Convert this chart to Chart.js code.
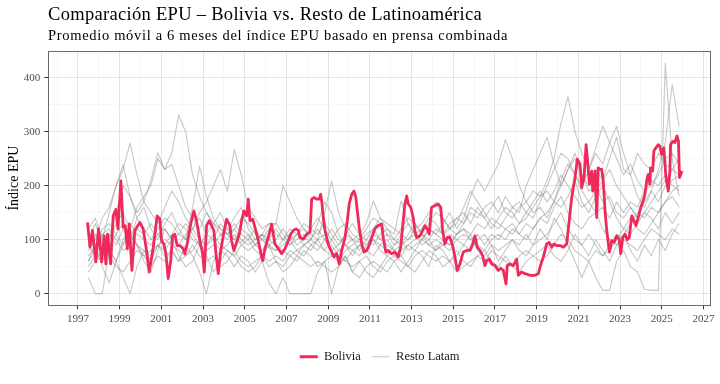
<!DOCTYPE html>
<html><head><meta charset="utf-8">
<script src="https://cdn.jsdelivr.net/npm/chart.js@4.4.0/dist/chart.umd.min.js"></script>
<style>
html,body{margin:0;padding:0;background:#fff;}
#wrap{position:relative;width:720px;height:384px;overflow:hidden;background:#fff;}
canvas{position:absolute;left:0;top:0;}
.t{position:absolute;left:48px;white-space:nowrap;font-family:"Liberation Serif",serif;color:#000;line-height:1;}
#title{top:4.5px;font-size:18.5px;}
#subtitle{top:27.9px;font-size:14.5px;}
</style></head><body>
<div id="wrap"><canvas id="c" width="720" height="384"></canvas>
<div id="title" class="t">Comparación EPU – Bolivia vs. Resto de Latinoamérica</div>
<div id="subtitle" class="t">Promedio móvil a 6 meses del índice EPU basado en prensa combinada</div></div>
<script>
// ---------- DATA ----------
const xTickYears = [1997,1999,2001,2003,2005,2007,2009,2011,2013,2015,2017,2019,2021,2023,2025,2027];
const yTickValues = [0,100,200,300,400];

const boliviaDates = [1997.46,1997.58,1997.70,1997.86,1997.99,1998.14,1998.26,1998.34,1998.42,1998.57,1998.69,1998.82,1998.92,1999.06,1999.17,1999.27,1999.37,1999.46,1999.59,1999.73,1999.97,2000.13,2000.29,2000.42,2000.61,2000.80,2000.93,2001.01,2001.12,2001.22,2001.33,2001.45,2001.54,2001.65,2001.76,2001.89,2002.05,2002.13,2002.24,2002.41,2002.56,2002.69,2002.85,2002.98,2003.06,2003.17,2003.30,2003.41,2003.52,2003.62,2003.73,2003.84,2004.00,2004.13,2004.29,2004.37,2004.48,2004.61,2004.74,2004.85,2004.96,2005.09,2005.17,2005.25,2005.38,2005.49,2005.65,2005.81,2005.86,2005.97,2006.08,2006.17,2006.29,2006.37,2006.45,2006.61,2006.77,2006.93,2007.09,2007.20,2007.33,2007.46,2007.57,2007.65,2007.81,2007.97,2008.13,2008.21,2008.32,2008.45,2008.57,2008.64,2008.69,2008.77,2008.85,2009.00,2009.17,2009.28,2009.41,2009.53,2009.65,2009.81,2009.92,2010.01,2010.13,2010.24,2010.33,2010.40,2010.49,2010.61,2010.72,2010.85,2010.97,2011.09,2011.24,2011.40,2011.57,2011.64,2011.77,2011.88,2012.04,2012.20,2012.36,2012.48,2012.60,2012.68,2012.77,2012.84,2012.96,2013.08,2013.16,2013.24,2013.40,2013.53,2013.64,2013.75,2013.85,2013.96,2014.12,2014.28,2014.40,2014.49,2014.60,2014.71,2014.84,2014.97,2015.08,2015.19,2015.32,2015.48,2015.64,2015.80,2015.93,2016.04,2016.15,2016.28,2016.41,2016.52,2016.60,2016.73,2016.84,2017.00,2017.16,2017.27,2017.40,2017.53,2017.59,2017.72,2017.88,2018.04,2018.12,2018.28,2018.44,2018.68,2018.92,2019.08,2019.16,2019.32,2019.48,2019.60,2019.72,2019.83,2019.96,2020.12,2020.28,2020.44,2020.56,2020.68,2020.84,2020.95,2021.08,2021.16,2021.27,2021.37,2021.43,2021.53,2021.58,2021.64,2021.69,2021.75,2021.80,2021.88,2021.95,2022.04,2022.12,2022.19,2022.28,2022.36,2022.44,2022.49,2022.60,2022.71,2022.84,2022.96,2023.03,2023.13,2023.24,2023.35,2023.44,2023.56,2023.67,2023.76,2023.87,2023.99,2024.11,2024.19,2024.30,2024.35,2024.43,2024.46,2024.56,2024.62,2024.72,2024.83,2024.91,2024.99,2025.10,2025.20,2025.31,2025.39,2025.42,2025.52,2025.63,2025.73,2025.80,2025.85,2025.97];
const boliviaValues = [132,86,117,59,120,59,107,55,110,55,144,156,120,209,123,126,83,129,43,117,132,120,80,40,85,144,138,98,92,74,28,61,107,110,89,89,83,74,92,129,153,135,98,74,40,126,135,126,117,74,37,77,114,138,126,98,80,95,110,135,153,144,175,135,138,123,98,68,61,83,98,110,129,110,92,83,74,83,98,110,117,120,117,104,101,110,114,175,178,175,175,184,172,141,117,92,77,68,74,55,80,104,135,166,184,190,178,153,123,92,77,80,90,104,120,126,129,104,77,80,74,77,68,86,135,166,181,166,160,141,117,104,107,117,126,120,110,160,163,166,160,117,92,104,104,89,68,43,55,77,80,80,92,107,86,80,70,52,61,64,55,52,43,47,43,18,52,55,52,64,34,40,37,34,34,37,49,68,92,95,86,92,89,89,86,92,135,178,215,249,240,196,215,276,251,203,221,227,190,196,227,141,233,230,230,210,153,117,92,77,98,95,107,100,74,104,110,100,104,144,135,126,141,160,172,184,215,221,203,233,227,264,270,276,273,258,270,215,190,227,276,282,280,292,282,215,227];

// Other Latin American countries: one value every 4 months from mid-1997
const latamStartYear = 1997.5;
const latamStepMonths = 4;
const latam01 = [90,110,70,100,130,150,120,160,180,200,250,230,260,331,300,220,180,150,130,120,110,100,95,110,90,100,85,80,90,100,110,120,100,130,170,150,110,90,100,95,110,120,140,130,120,110,100,120,130,150,170,140,120,130,160,190,170,150,130,120,140,160,150,200,230,260,290,240,200,230,260,220,200,230,210,250,290,230,220,260,240,230,260,240,230,220];
const latam02 = [60,80,100,150,200,230,279,220,170,150,130,160,190,170,140,120,150,170,200,230,190,267,220,160,140,120,130,130,200,170,140,120,110,100,150,209,150,120,100,110,130,172,140,120,110,172,130,110,100,120,110,130,150,120,140,180,212,190,215,240,285,250,200,170,150,160,140,170,200,230,250,220,190,200,170,180,150,140,160,140,170,190,170,200,210,220];
const latam03 = [30,0,0,80,60,30,0,50,80,60,90,70,80,60,90,70,40,0,60,80,70,50,70,60,40,60,20,0,30,0,0,0,0,40,60,0,50,70,40,60,40,30,50,70,60,40,60,80,70,50,90,80,60,70,90,110,80,70,90,60,80,100,90,110,90,120,100,140,120,90,60,30,60,30,6,6,60,80,50,40,8,6,6,427,250,180];
const latam04 = [100,130,90,110,90,120,100,140,160,120,100,130,150,120,100,160,236,180,140,120,110,130,110,100,120,100,90,80,100,120,110,90,100,120,100,80,90,110,100,80,100,90,110,120,100,90,110,130,110,100,120,110,130,140,150,130,160,140,160,180,150,140,160,170,190,180,210,250,316,365,300,260,230,270,310,280,250,220,240,210,190,200,220,250,260,240];
const latam05 = [70,90,110,100,150,200,180,150,170,210,261,230,240,200,160,140,120,150,130,110,120,100,120,110,90,80,100,90,80,70,80,90,100,90,80,100,80,90,70,90,80,100,90,80,70,80,90,100,110,90,100,90,80,100,110,100,90,80,100,110,100,120,110,100,120,140,130,160,180,150,130,120,140,150,120,100,90,110,130,150,140,160,150,170,180,160];
const latam06 = [80,100,140,160,200,239,180,140,120,100,120,140,130,110,100,120,140,110,100,130,110,120,140,130,110,100,120,130,110,90,100,110,90,80,100,120,100,90,80,70,90,100,80,70,90,100,80,90,100,120,110,100,90,110,120,110,130,120,140,130,120,110,130,150,140,170,200,230,260,250,220,200,230,260,240,280,310,260,220,180,160,190,230,280,387,310];
const latam07 = [50,70,60,80,60,90,110,90,70,80,90,100,90,80,70,80,100,90,110,90,80,70,90,100,80,70,60,70,60,80,70,90,80,100,110,90,70,60,80,90,80,70,90,100,80,70,90,80,100,90,80,90,110,100,90,80,100,110,90,80,90,100,80,70,90,100,110,130,150,120,100,90,110,90,70,80,100,120,110,130,150,140,120,150,130,150];
const latam08 = [40,60,80,70,50,40,60,80,70,50,70,60,80,60,70,90,70,60,70,50,60,80,60,50,60,70,50,60,50,70,60,80,70,50,60,70,80,60,50,60,70,50,40,60,70,60,50,70,80,70,60,70,60,80,60,50,70,60,80,70,60,50,70,80,70,60,70,90,110,100,80,70,60,80,70,90,110,100,90,80,100,120,110,100,120,110];
const latam09 = [110,80,120,130,110,90,130,110,100,90,110,120,100,90,110,120,100,90,100,80,90,110,90,80,90,110,100,120,100,110,90,100,120,110,130,110,90,110,130,110,100,120,100,110,90,110,130,110,120,140,130,110,120,140,130,150,140,160,170,150,180,160,170,150,170,190,170,190,220,200,180,160,170,150,160,140,170,150,170,160,190,210,200,220,200,190];
const latam10 = [120,140,100,90,110,130,110,90,80,70,90,80,100,110,130,110,90,80,90,110,100,120,100,90,100,110,90,100,120,100,80,70,90,100,80,70,60,80,90,100,90,110,100,90,80,90,100,110,90,100,80,100,90,110,120,100,110,90,110,100,120,130,110,130,120,140,150,170,160,180,210,170,150,180,200,170,140,120,140,120,110,130,150,170,190,200];
const latam11 = [60,90,50,20,60,100,120,90,60,40,80,120,100,70,50,60,90,70,40,60,80,70,50,40,50,70,90,60,40,50,70,60,50,60,50,40,50,70,40,30,50,60,50,40,60,70,50,40,60,80,70,50,60,40,50,60,70,80,60,50,70,50,40,60,70,80,90,70,60,80,110,90,70,100,80,60,90,110,80,60,90,70,100,80,110,130];
const latam12 = [90,70,110,120,100,80,90,120,110,130,110,90,110,130,120,100,90,110,130,150,120,140,160,120,100,110,130,110,100,90,110,130,120,140,120,100,120,130,110,100,120,140,130,110,100,120,140,130,110,130,150,140,120,110,130,160,150,140,120,140,160,150,130,140,160,180,190,170,210,240,220,190,170,190,210,230,200,180,160,140,150,170,190,210,230,250];
const latamSeries = [latam01,latam02,latam03,latam04,latam05,latam06,latam07,latam08,latam09,latam10,latam11,latam12];

// ---------- CHART ----------
const FONT = '"Liberation Serif", "Times New Roman", serif';
const xMin = 1995.58, xMax = 2027.36;
const yMin = -21.4, yMax = 449.4;
const BOL_COLOR = '#EE2A5B';
const GRAY_COLOR = 'rgba(130,130,130,0.45)';
const GRID_MAJOR = '#e3e3e3', GRID_MINOR = '#f1f1f1';

function fitText(id, target) {
  const el = document.getElementById(id);
  const cs = getComputedStyle(el);
  const c = document.createElement('canvas').getContext('2d');
  c.font = cs.fontSize + ' ' + cs.fontFamily;
  const w = c.measureText(el.textContent).width;
  el.style.letterSpacing = ((target - w) / el.textContent.length) + 'px';
}
fitText('title', 434);
fitText('subtitle', 460);

const datasets = [{
  label: 'Bolivia',
  data: boliviaDates.map((d, i) => ({x: d, y: boliviaValues[i]})),
  borderColor: BOL_COLOR, backgroundColor: BOL_COLOR,
  borderWidth: 2.8, pointRadius: 0, tension: 0, borderJoinStyle: 'round'
}];
latamSeries.forEach((s) => {
  datasets.push({
    label: 'Resto Latam',
    data: s.map((v, i) => ({x: latamStartYear + i * latamStepMonths / 12, y: v})),
    borderColor: GRAY_COLOR, backgroundColor: GRAY_COLOR,
    borderWidth: 1.1, pointRadius: 0, tension: 0, borderJoinStyle: 'round'
  });
});

const isMajorX = (v) => xTickYears.includes(v);
const isMajorY = (v) => yTickValues.includes(v);

const panelBorder = {
  id: 'panelBorder',
  afterDatasetsDraw(chart) {
    const {ctx, chartArea: a} = chart;
    ctx.save();
    ctx.strokeStyle = '#6a6a6a';
    ctx.lineWidth = 1;
    ctx.strokeRect(Math.round(a.left) + 0.5, Math.round(a.top) + 0.5, Math.round(a.right - a.left) - 1, Math.round(a.bottom - a.top));
    ctx.restore();
  }
};
const legendToPanel = {
  id: 'legendToPanel',
  afterLayout(chart) {
    const lg = chart.legend, a = chart.chartArea;
    if (!lg) return;
    lg.left = a.left; lg.right = a.right; lg.width = a.right - a.left;
  }
};

new Chart(document.getElementById('c'), {
  type: 'line',
  data: {datasets},
  options: {
    responsive: false, animation: false, devicePixelRatio: 1,
    layout: {padding: {top: 51, right: 9, left: 0, bottom: 11}},
    plugins: {
      legend: {
        position: 'bottom',
        labels: {
          usePointStyle: true, pointStyle: 'line', pointStyleWidth: 18, boxHeight: 12,
          padding: 11, color: '#1a1a1a', font: {family: FONT, size: 12.5},
          filter: (item) => item.datasetIndex <= 1
        }
      },
      tooltip: {enabled: false},
      title: {display: false}
    },
    scales: {
      x: {
        type: 'linear', min: xMin, max: xMax,
        afterFit: (s) => { s.height = 34.3; },
        border: {display: false},
        grid: {
          color: (c) => isMajorX(c.tick.value) ? GRID_MAJOR : GRID_MINOR,
          lineWidth: (c) => isMajorX(c.tick.value) ? 1 : 0.6,
          tickColor: (c) => isMajorX(c.tick.value) ? '#333333' : 'rgba(0,0,0,0)',
          tickLength: 4, tickWidth: 1
        },
        ticks: {
          stepSize: 1, includeBounds: false, autoSkip: false, maxRotation: 0, minRotation: 0,
          padding: 3, color: '#4d4d4d', font: {family: FONT, size: 11},
          callback: (v) => isMajorX(v) ? String(v) : ''
        }
      },
      y: {
        min: yMin, max: yMax,
        afterFit: (s) => { s.width = 48.3; },
        border: {display: false},
        title: {display: true, text: 'Índice EPU', color: '#000', font: {family: FONT, size: 14}, padding: {top: 6, bottom: 0}},
        grid: {
          color: (c) => isMajorY(c.tick.value) ? GRID_MAJOR : GRID_MINOR,
          lineWidth: (c) => isMajorY(c.tick.value) ? 1 : 0.6,
          tickColor: (c) => isMajorY(c.tick.value) ? '#333333' : 'rgba(0,0,0,0)',
          tickLength: 4, tickWidth: 1
        },
        ticks: {
          stepSize: 50, includeBounds: false, padding: 4, color: '#4d4d4d', font: {family: FONT, size: 11},
          callback: (v) => isMajorY(v) ? String(v) : ''
        }
      }
    }
  },
  plugins: [panelBorder, legendToPanel]
});
</script>
</body></html>
